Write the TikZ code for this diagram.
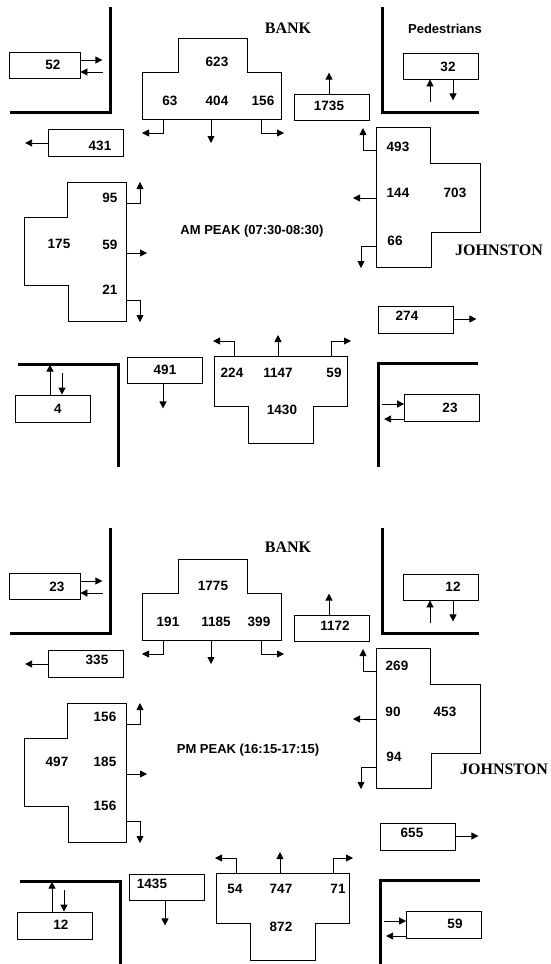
\documentclass[tikz,border=0pt]{standalone}
\usepackage{fontspec}
\setmainfont{Liberation Serif}
\setsansfont{Liberation Sans}
\usetikzlibrary{arrows.meta}

% one junction: kerbs, approach blocks, pedestrian and exit boxes
\newcommand{\junctionlayout}{%
    % Kerb corners
    \draw[kerb] (110,7) -- (110,112) -- (10,112);
    \draw[kerb] (382,7) -- (382,112) -- (479,112);
    % Pedestrian boxes (top)
    \node[pedbox, minimum width=71pt] (pedNW) at (44.5,65) {};
    \node[pedbox] (pedNE) at (441,66) {};
    \draw[flow] (pedNW.east |- 0,60) -- ++(22,0);
    \draw[flow, <-] (pedNW.east |- 0,72) -- ++(23,0);
    \draw[flow, <-] (pedNE.south -| 430,0) -- ++(0,23);
    \draw[flow] (pedNE.south -| 453,0) -- ++(0,21);
    % Exit boxes (top)
    \node[pedbox] (outN) at (331.5,107) {};
    \node[pedbox, minimum height=27pt] (outW) at (86,142.5) {};
    \draw[flow] (outN.north -| 329,0) -- ++(0,-21);
    \draw[flow] (outW.west |- 0,143) -- ++(-23,0);
    % North approach
    \draw[block] (142,119) -- (142,72) -- (178,72) -- (178,38) -- (247,38) -- (247,72) -- (281,72) -- (281,119) -- cycle;
    \draw[flow] (163,119) -- ++(0,14) -- ++(-21,0);
    \draw[flow] (211,119) -- ++(0,24);
    \draw[flow] (261,119) -- ++(0,14) -- ++(23,0);
    % East approach
    \draw[block] (376,127) -- (430,127) -- (430,163) -- (480,163) -- (480,232) -- (431,232) -- (431,267) -- (376,267) -- cycle;
    \draw[flow] (376,150) -- ++(-13,0) -- ++(0,-22);
    \draw[flow] (376,198) -- ++(-23,0);
    \draw[flow] (376,246) -- ++(-15,0) -- ++(0,22);
    % West approach
    \draw[block] (126,182) -- (67,182) -- (67,217) -- (24,217) -- (24,285) -- (68,285) -- (68,321) -- (126,321) -- cycle;
    \draw[flow] (126,203) -- ++(14,0) -- ++(0,-21);
    \draw[flow] (126,253) -- ++(21,0);
    \draw[flow] (126,300) -- ++(14,0) -- ++(0,22);
    \begin{scope}[lower]
        % Kerb corners (bottom)
        \draw[kerb] (18,364) -- (118,364) -- (118,467);
        \draw[kerb] (478,363) -- (378,363) -- (378,467);
        % Exit boxes (bottom)
        \node[pedbox, minimum height=27pt] (outE) at (415.5,319.5) {};
        \node[pedbox] (outS) at (165,370) {};
        \draw[flow] (outE.east |- 0,319) -- ++(23,0);
        \draw[flow] (outS.south -| 163,0) -- ++(0,25);
        % Pedestrian boxes (bottom)
        \node[pedbox, minimum height=27pt] (pedSW) at (52.5,408.5) {};
        \node[pedbox, minimum height=27pt] (pedSE) at (442,407.5) {};
        \draw[flow] (pedSW.north -| 50,0) -- ++(0,-30);
        \draw[flow, <-] (pedSW.north -| 62,0) -- ++(0,-22);
        \draw[flow, <-] (pedSE.west |- 0,404) -- ++(-22,0);
        \draw[flow] (pedSE.west |- 0,419) -- ++(-20,0);
        % South approach
        \draw[block] (214,356) -- (347,356) -- (347,406) -- (313,406) -- (313,443) -- (248,443) -- (248,406) -- (214,406) -- cycle;
        \draw[flow] (234,356) -- ++(0,-15) -- ++(-21,0);
        \draw[flow] (278,356) -- ++(0,-21);
        \draw[flow] (331,356) -- ++(0,-15) -- ++(20,0);
    \end{scope}
}

\begin{document}
\begin{tikzpicture}[
    x=1pt, y=-1pt,
    >={Stealth[length=7pt,width=7pt,inset=0pt]},
    kerb/.style={line width=3pt},
    block/.style={draw, line width=0.8pt},
    pedbox/.style={draw, line width=0.8pt, minimum width=75pt, minimum height=26pt, inner sep=0pt},
    flow/.style={->, line width=0.8pt},
    num/.style={font=\sffamily\bfseries\fontsize{13.5}{15}\selectfont, inner sep=0pt},
    caption/.style={font=\sffamily\bfseries\fontsize{13}{15}\selectfont, inner sep=0pt},
    road/.style={font=\rmfamily\bfseries\fontsize{16}{18}\selectfont, inner sep=0pt},
    lower/.style={}
]
    \useasboundingbox (0,0) rectangle (550,964);
    \clip (0,0) rectangle (550,964);

    % AM peak
    \begin{scope}[name prefix=am-]
        \junctionlayout
        \node[road] (bank) at (288,28) {BANK};
        \node[road] (johnston) at (499,250) {JOHNSTON};
        \node[caption] (peds) at (445,29) {Pedestrians};
        \node[caption] (title) at (252,231) {AM PEAK (07:30-08:30)};
        \node[num] (nTot) at (217,62) {623};
        \node[num] (nLeft) at (170,101) {63};
        \node[num] (nThru) at (217,101) {404};
        \node[num] (nRight) at (263,101) {156};
        \node[num] (eTop) at (398,147) {493};
        \node[num] (eMid) at (398,193) {144};
        \node[num] (eTot) at (455,193) {703};
        \node[num] (eBot) at (395,241) {66};
        \node[num] (wTop) at (110,198) {95};
        \node[num] (wTot) at (59,244) {175};
        \node[num] (wMid) at (110,245) {59};
        \node[num] (wBot) at (110,290) {21};
        \node[num] (sLeft) at (232,373) {224};
        \node[num] (sThru) at (278,373) {1147};
        \node[num] (sRight) at (334,373) {59};
        \node[num] (sTot) at (282,410) {1430};
        \node[num] (pedNWn) at (53,65) {52};
        \node[num] (pedNEn) at (448,67) {32};
        \node[num] (pedSWn) at (58,409) {4};
        \node[num] (pedSEn) at (450,408) {23};
        \node[num] (outNn) at (329,106) {1735};
        \node[num] (outWn) at (100,146) {431};
        \node[num] (outEn) at (407,316) {274};
        \node[num] (outSn) at (165,370) {491};
    \end{scope}

    % PM peak
    \begin{scope}[shift={(0,521)}, name prefix=pm-, lower/.style={shift={(2,-4)}}]
        \junctionlayout
        \node[road] (bank) at (288,26) {BANK};
        \node[road] (johnston) at (504,248) {JOHNSTON};
        \node[caption] (title) at (248,229) {PM PEAK (16:15-17:15)};
        \node[num] (nTot) at (213,65) {1775};
        \node[num] (nLeft) at (168,101) {191};
        \node[num] (nThru) at (216,101) {1185};
        \node[num] (nRight) at (259,101) {399};
        \node[num] (eTop) at (397,145) {269};
        \node[num] (eMid) at (393,191) {90};
        \node[num] (eTot) at (445,191) {453};
        \node[num] (eBot) at (394,236) {94};
        \node[num] (wTop) at (105,196) {156};
        \node[num] (wTot) at (57,241) {497};
        \node[num] (wMid) at (105,241) {185};
        \node[num] (wBot) at (105,285) {156};
        \node[num] (sLeft) at (235,368) {54};
        \node[num] (sThru) at (281,368) {747};
        \node[num] (sRight) at (338,368) {71};
        \node[num] (sTot) at (281,406) {872};
        \node[num] (pedNWn) at (57,66) {23};
        \node[num] (pedNEn) at (453,66) {12};
        \node[num] (pedSWn) at (61,404) {12};
        \node[num] (pedSEn) at (455,403) {59};
        \node[num] (outNn) at (335,105) {1172};
        \node[num] (outWn) at (97,139) {335};
        \node[num] (outEn) at (412,312) {655};
        \node[num] (outSn) at (152,363) {1435};
    \end{scope}
\end{tikzpicture}
\end{document}
